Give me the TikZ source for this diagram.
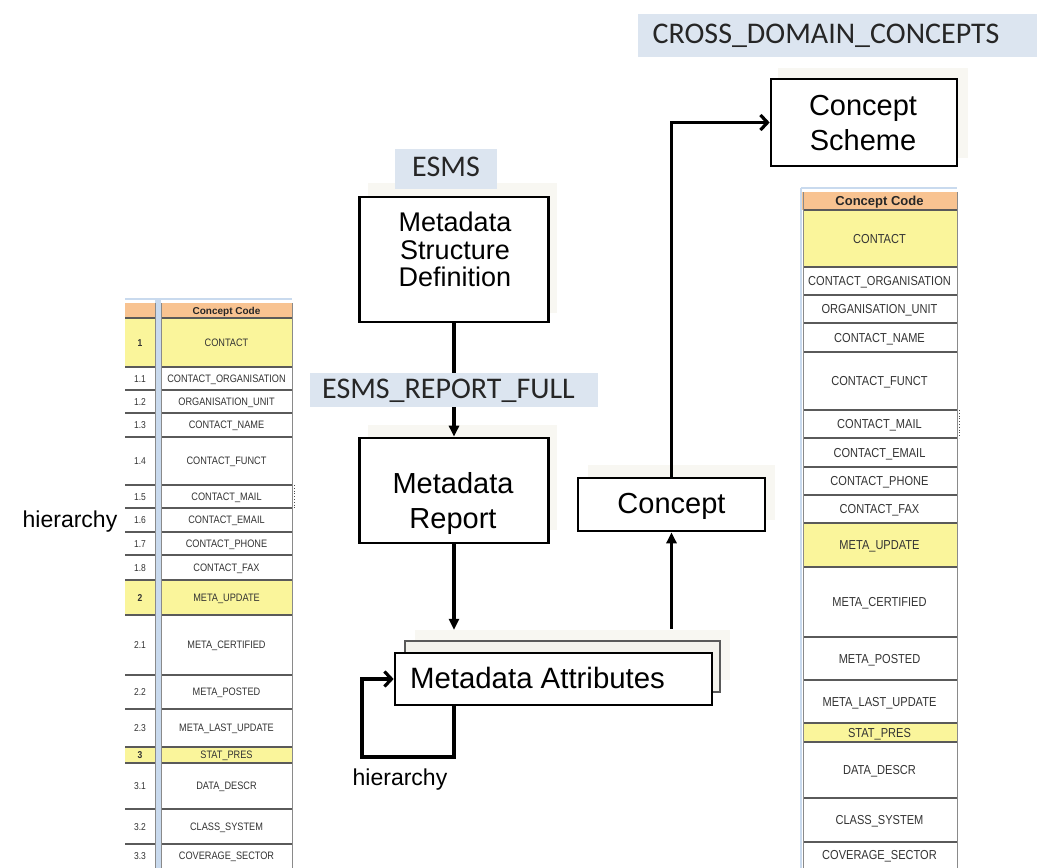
\documentclass[tikz,border=0pt]{standalone}
\usepackage{fontspec}
\setmainfont{Liberation Sans}
\newfontfamily\labelfont{Carlito}
\newfontfamily\cellfont[FakeStretch=0.85]{Liberation Sans}
\usetikzlibrary{arrows.meta,calc}

\definecolor{hdr}{HTML}{F8C391}
\definecolor{hlyellow}{HTML}{FAF59B}
\definecolor{stripe}{HTML}{C9DAEE}
\definecolor{tagblue}{HTML}{DCE5F0}
\definecolor{panel}{HTML}{F8F7F2}
\definecolor{rowgray}{HTML}{5A5A5A}
\definecolor{colgray}{HTML}{8A8A8A}
\definecolor{cellink}{HTML}{333333}
\definecolor{backfill}{HTML}{F3F2EC}

\tikzset{
  box/.style={draw=black, line width=2.7pt, fill=white, inner sep=0pt},
  backbox/.style={draw=black!65, line width=2.4pt, fill=backfill, inner sep=0pt},
  boxtxt/.style={anchor=base, inner sep=0pt, font=\fontsize{29}{35}\selectfont},
  tagbg/.style={fill=tagblue, draw=none, inner sep=0pt},
  tagtxt/.style={anchor=base, inner sep=0pt, font=\labelfont\fontsize{30}{36}\selectfont, text=black!85},
  plaintxt/.style={anchor=base, inner sep=0pt, font=\fontsize{23}{28}\selectfont},
  link/.style={line width=3.2pt},
  filledtip/.style={-{Triangle[length=11pt,width=10pt]}},
  opentip/.style={-{Straight Barb[length=7pt,width=15pt]}},
  rowline/.style={draw=rowgray, line width=1.3pt},
  colline/.style={draw=colgray, line width=1pt},
  lcell/.style={inner sep=0pt, text=cellink, text height=7.7pt, text depth=0pt,
    font=\cellfont\fontsize{10.8}{12}\selectfont},
  lnum/.style={inner sep=0pt, text=cellink, text height=7.2pt, text depth=0pt,
    font=\cellfont\fontsize{10}{12}\selectfont},
  rcell/.style={inner sep=0pt, text=cellink, text height=9.3pt, text depth=0pt,
    font=\cellfont\fontsize{13}{15}\selectfont},
}

\begin{document}
\begin{tikzpicture}[x=1pt,y=-1pt]
\useasboundingbox (0,0) rectangle (1037,868);
\fill[white] (0,0) rectangle (1037,868);

% ---------- left concept table (with level numbers) ----------
\fill[stripe] (155,298) rectangle (161,868);
\draw[stripe, line width=2pt] (125,299) -- (292,299);
\fill[hdr] (125,303) rectangle (155,318);
\fill[hdr] (161,303) rectangle (292,318);
\node[inner sep=0pt, text height=7pt, text depth=0pt, font=\bfseries\fontsize{10}{12}\selectfont, text=black!85]
  (lhead) at (226.5,310.5) {Concept Code};
\foreach \a/\b/\n/\t/\c [count=\i] in {
  318/367/{\bfseries 1}/CONTACT/hlyellow,
  367/390/1.1/CONTACT\_ORGANISATION/white,
  390/413/1.2/ORGANISATION\_UNIT/white,
  413/437/1.3/CONTACT\_NAME/white,
  437/485/1.4/CONTACT\_FUNCT/white,
  485/508/1.5/CONTACT\_MAIL/white,
  508/532/1.6/CONTACT\_EMAIL/white,
  532/555/1.7/CONTACT\_PHONE/white,
  555/580/1.8/CONTACT\_FAX/white,
  580/615/{\bfseries 2}/META\_UPDATE/hlyellow,
  615/675/2.1/META\_CERTIFIED/white,
  675/709/2.2/META\_POSTED/white,
  709/747/2.3/META\_LAST\_UPDATE/white,
  747/763/{\bfseries 3}/STAT\_PRES/hlyellow,
  763/809/3.1/DATA\_DESCR/white,
  809/844/3.2/CLASS\_SYSTEM/white,
  844/868/3.3/COVERAGE\_SECTOR/white}{
  \fill[\c] (125,\a) rectangle (155,\b);
  \fill[\c] (161,\a) rectangle (292,\b);
  \draw[rowline] (125,\a) -- (155,\a) (161,\a) -- (292,\a);
  \node[lnum] (ln\i) at (140,{(\a+\b)/2}) {\n};
  \node[lcell] (lc\i) at (226.5,{(\a+\b)/2}) {\t};
}
\draw[colline] (161,303) -- (161,868);
\draw[colline] (292,303) -- (292,868);
\draw[colline] (155,303) -- (155,868);
\draw[dotted, line width=0.8pt, black!70] (294,485) -- (294,508);

% ---------- right concept table ----------
\draw[stripe, line width=2pt] (801,188) -- (957,188);
\draw[stripe, line width=2pt] (801,188) -- (801,868);
\fill[hdr] (802,192) rectangle (957,210);
\node[inner sep=0pt, text height=9.3pt, text depth=0pt, font=\bfseries\fontsize{13}{15}\selectfont, text=black!85]
  (rhead) at (879.5,201) {Concept Code};
\foreach \a/\b/\t/\c [count=\i] in {
  210/267/CONTACT/hlyellow,
  267/295/CONTACT\_ORGANISATION/white,
  295/323/ORGANISATION\_UNIT/white,
  323/352/CONTACT\_NAME/white,
  352/410/CONTACT\_FUNCT/white,
  410/438/CONTACT\_MAIL/white,
  438/467/CONTACT\_EMAIL/white,
  467/495/CONTACT\_PHONE/white,
  495/523/CONTACT\_FAX/white,
  523/567/META\_UPDATE/hlyellow,
  567/637/META\_CERTIFIED/white,
  637/680/META\_POSTED/white,
  680/723/META\_LAST\_UPDATE/white,
  723/742/STAT\_PRES/hlyellow,
  742/798/DATA\_DESCR/white,
  798/842/CLASS\_SYSTEM/white,
  842/868/COVERAGE\_SECTOR/white}{
  \fill[\c] (803,\a) rectangle (957,\b);
  \draw[rowline] (803,\a) -- (957,\a);
  \node[rcell] (rc\i) at (879.5,{(\a+\b)/2}) {\t};
}
\draw[colline] (803,192) -- (803,868);
\draw[colline] (957,192) -- (957,868);
\draw[dotted, line width=0.8pt, black!70] (959,410) -- (959,438);

% ---------- faint panels behind the boxes ----------
\fill[panel] (778,68) rectangle (968,158);
\fill[panel] (368,183) rectangle (557,313);
\fill[panel] (368,425) rectangle (557,530);
\fill[panel] (588,465) rectangle (775,520);
\fill[panel] (415,630) rectangle (730,680);

% ---------- model boxes ----------
\node[box, minimum width=186pt, minimum height=87pt] (cs) at (864,122.5) {};
\node[boxtxt] (cs1) at (863,115) {Concept};
\node[boxtxt] (cs2) at (863,150) {Scheme};

\node[box, minimum width=189pt, minimum height=125pt] (msd) at (454,259.5) {};
\node[boxtxt, font=\fontsize{27}{28}\selectfont] (msd1) at (455,231.7) {Metadata};
\node[boxtxt, font=\fontsize{27}{28}\selectfont] (msd2) at (455,259) {Structure};
\node[boxtxt, font=\fontsize{27}{28}\selectfont] (msd3) at (455,286) {Definition};

\node[box, minimum width=189pt, minimum height=105pt] (mr) at (454,490.5) {};
\node[boxtxt] (mr1) at (453,493) {Metadata};
\node[boxtxt] (mr2) at (453,528) {Report};

\node[box, minimum width=187pt, minimum height=53pt] (con) at (671.5,504.5) {};
\node[boxtxt] (con1) at (671.5,513) {Concept};

\node[backbox, minimum width=315pt, minimum height=51pt] (mab) at (562.5,666.5) {};
\node[box, minimum width=317pt, minimum height=52pt] (maf) at (553.5,679) {};
\node[boxtxt, font=\fontsize{29.4}{35}\selectfont] (ma1) at (537.5,688) {Metadata Attributes};

% ---------- scheme labels ----------
\node[tagbg, minimum width=399pt, minimum height=43pt] (cdc) at (837.5,35.5) {};
\node[tagtxt] (cdct) at (826,43) {CROSS\_DOMAIN\_CONCEPTS};
\node[tagbg, minimum width=102pt, minimum height=40pt] (esms) at (446,169) {};
\node[tagtxt] (esmst) at (446,176) {ESMS};

% ---------- connectors ----------
\draw[link, filledtip] (msd.south) -- (mr.north);
\node[tagbg, minimum width=288pt, minimum height=34pt] (erf) at (454,390) {};
\node[tagtxt] (erft) at (448.5,398) {ESMS\_REPORT\_FULL};

\draw[link, filledtip, shorten >=10pt] (mr.south) -- (mr.south |- mab.north);
\draw[link, filledtip, shorten <=11pt] (con.south |- mab.north) -- (con.south);
\draw[link, opentip] (con.north) |- (cs.west);

\coordinate (hloop) at (362,757);
\draw[link, opentip] (maf.south -| mr.south) |- (hloop) |- (maf.west);

\node[plaintxt] (hbot) at (400,785) {hierarchy};
\node[plaintxt] (hleft) at (70,527) {hierarchy};
\end{tikzpicture}
\end{document}
